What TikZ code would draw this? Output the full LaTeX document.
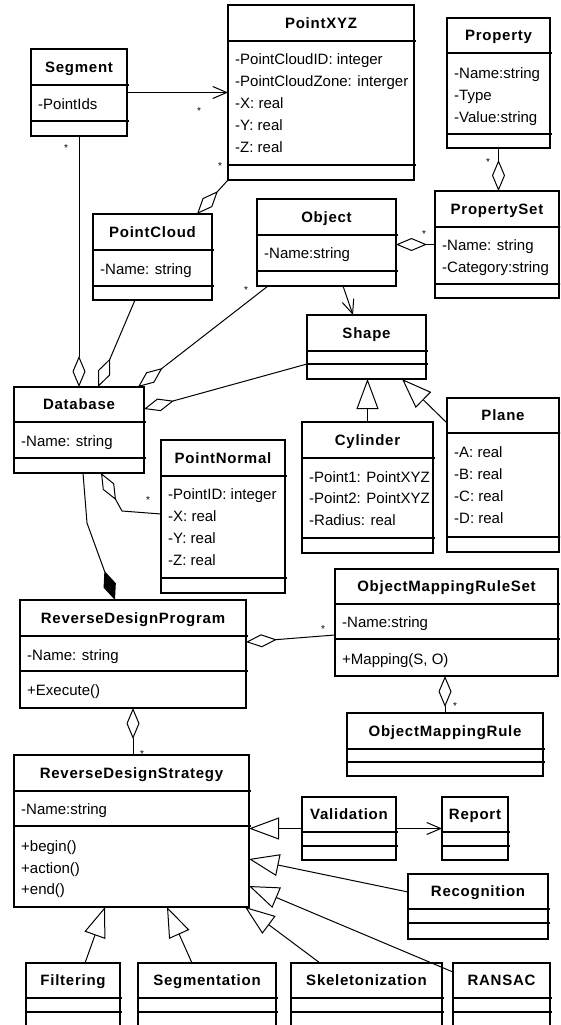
\documentclass[tikz,border=0pt]{standalone}
\usepackage{fontspec}
\setmainfont{Liberation Sans}
\newfontfamily\titlefont[LetterSpace=5]{Liberation Sans}
\usetikzlibrary{arrows.meta}

\tikzset{
  classbox/.style={draw, line width=1.2pt, inner sep=0pt, outer sep=0pt},
  divider/.style={line width=1.2pt},
  classtitle/.style={font=\titlefont\bfseries\fontsize{15}{18}\selectfont, inner sep=0pt, anchor=base},
  attrtext/.style={font=\fontsize{15}{18}\selectfont, inner sep=0pt, anchor=base west},
  mult/.style={font=\fontsize{10}{12}\selectfont, inner sep=0pt},
  link/.style={line width=1pt, line join=miter},
  agg/.style={link, {Diamond[open,length=31pt,width=13pt]}-},
  comp/.style={link, {Diamond[length=31pt,width=13pt]}-},
  gen/.style={link, -{Triangle[open,length=30pt,width=22pt]}},
  nav/.style={link, -{Straight Barb[length=14pt,width=12pt]}},
}

% class box: name, left, top, right, bottom, first divider, second divider, title
\newcommand\umlclass[8]{%
  \node[classbox, minimum width={(#4-#2)*1pt}, minimum height={(#5-#3)*1pt}]
    (#1) at ({(#2+#4)/2},{(#3+#5)/2}) {};
  \draw[divider] (#2,#6) -- ({#4+1.5},#6);
  \draw[divider] (#2,#7) -- ({#4+1.5},#7);
  \node[classtitle] (#1-title) at ({(#2+#4)/2},{(#3+#6)/2+5.4}) {#8};
}
% one compartment line: name, box left, row centre, text
\newcommand\attrline[4]{\node[attrtext] (#1) at ({#2+7},{#3+5.4}) {#4};}

\begin{document}
\begin{tikzpicture}[x=1pt,y=-1pt]
\useasboundingbox (0,0) rectangle (560,1025);
\clip (0,0) rectangle (560,1025);

% ---- classes ----
\umlclass{seg}{31}{49}{127}{136}{85}{121}{Segment}
\attrline{seg-a1}{31}{104}{-PointIds}

\umlclass{pxyz}{228}{5}{414}{180}{41}{165}{PointXYZ}
\attrline{pxyz-a1}{228}{59}{-PointCloudID: integer}
\attrline{pxyz-a2}{228}{81}{-PointCloudZone: interger}
\attrline{pxyz-a3}{228}{103}{-X: real}
\attrline{pxyz-a4}{228}{125}{-Y: real}
\attrline{pxyz-a5}{228}{147}{-Z: real}

\umlclass{prop}{447}{18}{550}{148}{53}{134}{Property}
\attrline{prop-a1}{447}{73}{-Name:string}
\attrline{prop-a2}{447}{95}{-Type}
\attrline{prop-a3}{447}{117}{-Value:string}

\umlclass{pset}{435}{191}{559}{298}{227}{284}{PropertySet}
\attrline{pset-a1}{435}{245}{-Name: string}
\attrline{pset-a2}{435}{267}{-Category:string}

\umlclass{obj}{257}{199}{396}{286}{235}{271}{Object}
\attrline{obj-a1}{257}{253}{-Name:string}

\umlclass{pc}{93}{214}{212}{300}{250}{286}{PointCloud}
\attrline{pc-a1}{93}{269}{-Name: string}

\umlclass{shape}{307}{315}{426}{379}{351}{364}{Shape}

\umlclass{db}{14}{387}{144}{473}{422}{458}{Database}
\attrline{db-a1}{14}{441}{-Name: string}

\umlclass{pn}{161}{440}{285}{593}{476}{578}{PointNormal}
\attrline{pn-a1}{161}{494}{-PointID: integer}
\attrline{pn-a2}{161}{516}{-X: real}
\attrline{pn-a3}{161}{538}{-Y: real}
\attrline{pn-a4}{161}{560}{-Z: real}

\umlclass{cyl}{302}{422}{433}{553}{458}{538}{Cylinder}
\attrline{cyl-a1}{302}{477}{-Point1: PointXYZ}
\attrline{cyl-a2}{302}{498}{-Point2: PointXYZ}
\attrline{cyl-a3}{302}{520}{-Radius: real}

\umlclass{plane}{447}{398}{559}{552}{433}{537}{Plane}
\attrline{plane-a1}{447}{452}{-A: real}
\attrline{plane-a2}{447}{474}{-B: real}
\attrline{plane-a3}{447}{496}{-C: real}
\attrline{plane-a4}{447}{518}{-D: real}

\umlclass{rdp}{20}{600}{246}{708}{636}{671}{ReverseDesignProgram}
\attrline{rdp-a1}{20}{655}{-Name: string}
\attrline{rdp-o1}{20}{690}{+Execute()}

\umlclass{ors}{335}{569}{558}{676}{604}{639}{ObjectMappingRuleSet}
\attrline{ors-a1}{335}{622}{-Name:string}
\attrline{ors-o1}{335}{659}{+Mapping(S, O)}

\umlclass{orule}{347}{713}{543}{776}{749}{762}{ObjectMappingRule}

\umlclass{rds}{14}{755}{249}{907}{791}{826}{ReverseDesignStrategy}
\attrline{rds-a1}{14}{809}{-Name:string}
\attrline{rds-o1}{14}{846}{+begin()}
\attrline{rds-o2}{14}{868}{+action()}
\attrline{rds-o3}{14}{889}{+end()}

\umlclass{val}{302}{797}{396}{860}{832}{846}{Validation}
\umlclass{rep}{442}{797}{508}{860}{832}{846}{Report}
\umlclass{rec}{408}{874}{548}{939}{909}{923}{Recognition}
\umlclass{filt}{26}{963}{120}{1040}{998}{1012}{Filtering}
\umlclass{segm}{138}{963}{276}{1040}{998}{1012}{Segmentation}
\umlclass{skel}{291}{963}{442}{1040}{998}{1012}{Skeletonization}
\umlclass{ransac}{453}{963}{550}{1040}{998}{1012}{RANSAC}

% ---- associations ----
\draw[nav] (seg.east) -- (pxyz.west);
\draw[agg] (db.north -| seg.south) -- (seg.south);
\draw[agg] ([xshift=44.5pt]pc.north) -- (pxyz.south west);
\draw[agg] ([xshift=19pt]db.north) -- ([xshift=-17.5pt]pc.south);
\draw[agg] ([xshift=59pt]db.north) -- ([xshift=11pt]obj.south west);
\draw[agg] ([yshift=21pt]db.east) -- ([yshift=-17pt]shape.west);
\draw[nav] ([xshift=16.5pt]obj.south) -- ([xshift=-13.5pt]shape.north);
\draw[agg] (obj.east |- pset.west) -- (pset.west);
\draw[agg] (pset.north -| prop.south) -- (prop.south);
\draw[agg] ([xshift=22pt]db.south) -- ++(21,38) -- ([yshift=2.5pt]pn.west);
\draw[comp] ([xshift=-18pt]rdp.north) -- ++(-28,-77) -- ([xshift=4pt]db.south);
\draw[agg] ([yshift=12pt]rdp.east) -- ([yshift=-12.5pt]ors.west);
\draw[agg] (ors.south -| orule.north) -- (orule.north);
\draw[agg] (rdp.south) -- (rds.north -| rdp.south);
\draw[nav] (val.east) -- (rep.west);

% ---- generalizations ----
\draw[gen] (cyl.north) -- (shape.south -| cyl.north);
\draw[gen] ([yshift=-25pt]plane.north west) -- ([xshift=35.5pt]shape.south);
\draw[gen] (val.west) -- (rds.east |- val.west);
\draw[gen] ([yshift=14.5pt]rec.west) -- ([yshift=-28pt]rds.east);
\draw[gen] ([yshift=-9pt]ransac.north west) -- ([yshift=-55pt]rds.east);
\draw[gen] ([xshift=-46.5pt]skel.north) -- ([xshift=-4pt]rds.south east);
\draw[gen] ([xshift=12pt]filt.north) -- ([xshift=-26.5pt]rds.south);
\draw[gen] ([xshift=-15pt]segm.north) -- ([xshift=35.5pt]rds.south);

% ---- multiplicities ----
\node[mult] (m1) at (199,111) {*};
\node[mult] (m2) at (66,148) {*};
\node[mult] (m3) at (220,166) {*};
\node[mult] (m4) at (246,290) {*};
\node[mult] (m5) at (424,234) {*};
\node[mult] (m6) at (488,162) {*};
\node[mult] (m7) at (148,500) {*};
\node[mult] (m8) at (323,629) {*};
\node[mult] (m9) at (455,706) {*};
\node[mult] (m10) at (142,754) {*};
\end{tikzpicture}
\end{document}
